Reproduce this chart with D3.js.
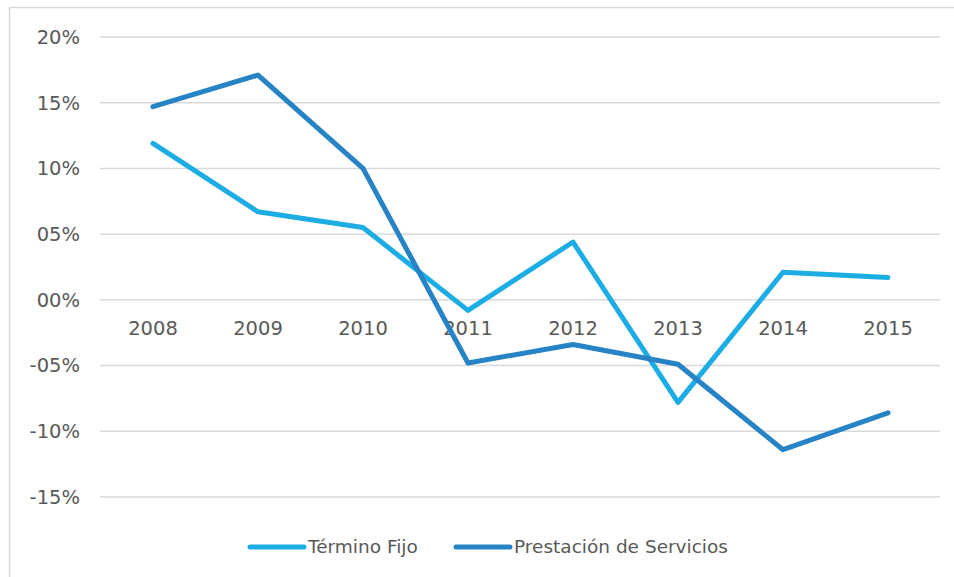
<!DOCTYPE html>
<html><head><meta charset="utf-8">
<script src="https://cdn.jsdelivr.net/npm/d3@7/dist/d3.min.js"></script>
<style>body{margin:0;background:#fff;}svg{display:block;}</style>
</head><body>
<svg id="c" width="954" height="577"></svg>
<script>
const years = ["2008","2009","2010","2011","2012","2013","2014","2015"];
const terminoFijo = [11.9, 6.7, 5.5, -0.8, 4.4, -7.8, 2.1, 1.7];
const prestacion = [14.7, 17.1, 10.0, -4.8, -3.4, -4.9, -11.4, -8.6];
const yTicks = [20, 15, 10, 5, 0, -5, -10, -15];
const yTickLabels = ["20%","15%","10%","05%","00%","-05%","-10%","-15%"];
const seriesNames = ["Término Fijo", "Prestación de Servicios"];
const colors = ["#1CADE4", "#2683C6"];

const svg = d3.select("#c");
const font = "'DejaVu Sans', sans-serif";
svg.append("rect").attr("x",9.5).attr("y",7.5).attr("width",980).attr("height",620)
  .attr("fill","#fff").attr("stroke","#D9D9D9").attr("stroke-width",1.5);

const x = d3.scalePoint().domain(years).range([153, 888]);
const y = d3.scaleLinear().domain([-15, 20]).range([497, 37]);
const gridX0 = 100, gridX1 = 940;

const g = svg.append("g");
g.selectAll("line.grid").data(yTicks).enter().append("line")
  .attr("x1",gridX0).attr("x2",gridX1)
  .attr("y1",d=>y(d)).attr("y2",d=>y(d))
  .attr("stroke","#D9D9D9").attr("stroke-width",1.5);

g.selectAll("text.yl").data(yTicks).enter().append("text")
  .attr("x",80).attr("y",d=>y(d)).attr("dy","0.35em")
  .attr("text-anchor","end").attr("fill","#595959")
  .style("font-family",font).style("font-size","19.5px")
  .text((d,i)=>yTickLabels[i]);

g.selectAll("text.xl").data(years).enter().append("text")
  .attr("x",d=>x(d)).attr("y",y(0)+28).attr("dy","0.35em")
  .attr("text-anchor","middle").attr("fill","#595959")
  .style("font-family",font).style("font-size","19.5px")
  .text(d=>d);

const line = d3.line().x((d,i)=>x(years[i])).y(d=>y(d));
[terminoFijo, prestacion].forEach((s,k)=>{
  g.append("path").datum(s).attr("d",line).attr("fill","none")
    .attr("stroke",colors[k]).attr("stroke-width",5)
    .attr("stroke-linejoin","round").attr("stroke-linecap","round");
});

// legend
const legX = [250, 456];
seriesNames.forEach((n,k)=>{
  g.append("line").attr("x1",legX[k]).attr("x2",legX[k]+54).attr("y1",547).attr("y2",547)
    .attr("stroke",colors[k]).attr("stroke-width",5).attr("stroke-linecap","round");
  g.append("text").attr("x",legX[k]+58).attr("y",547).attr("dy","0.35em")
    .attr("fill","#595959").style("font-family",font).style("font-size","18.5px").text(n);
});
</script>
</body></html>
